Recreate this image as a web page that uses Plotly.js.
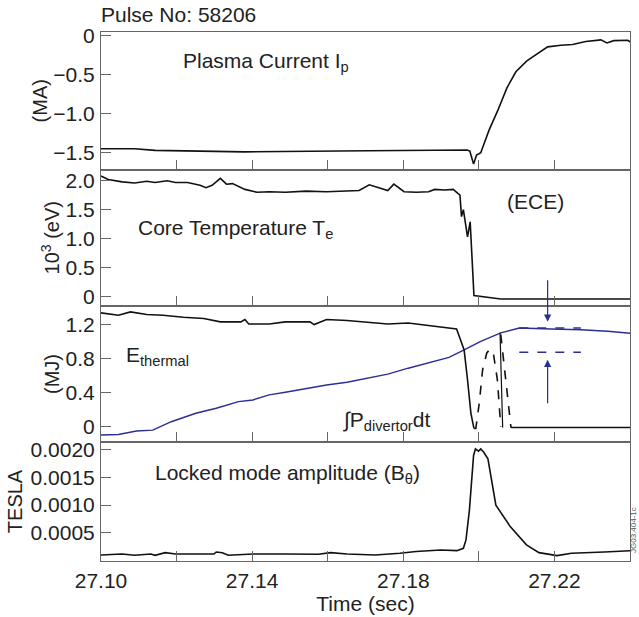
<!DOCTYPE html>
<html><head><meta charset="utf-8">
<script src="https://cdn.plot.ly/plotly-3.0.1.min.js"></script>
<style>html,body{margin:0;padding:0;background:#fff}#chart{width:639px;height:617px}</style>
</head><body><div id="chart"></div>
<script>
// ---------- data ----------
const xTickVals = [27.10, 27.14, 27.18, 27.22];
const xTickText = ["27.10", "27.14", "27.18", "27.22"];

const ipTime = [27.1000, 27.1089, 27.1143, 27.1380, 27.1705, 27.1969, 27.1976, 27.1986, 27.1994, 27.2005, 27.2027, 27.2049, 27.2074, 27.2098, 27.2127, 27.2155, 27.2182, 27.2217, 27.2248, 27.2283, 27.2323, 27.2339, 27.2357, 27.2394, 27.2403];
const ipMA   = [-1.45, -1.45, -1.47, -1.49, -1.475, -1.465, -1.48, -1.645, -1.53, -1.50, -1.21, -0.97, -0.67, -0.46, -0.32, -0.23, -0.14, -0.12, -0.11, -0.07, -0.05, -0.09, -0.06, -0.055, -0.085];
const ipTicks = [0, -0.5, -1.0, -1.5];
const ipTickText = ["0", "\u22120.5", "\u22121.0", "\u22121.5"];

const teTime = [27.1000, 27.1019, 27.1056, 27.1089, 27.1121, 27.1143, 27.1175, 27.1197, 27.1229, 27.1262, 27.1278, 27.1294, 27.1316, 27.1332, 27.1348, 27.1381, 27.1413, 27.1445, 27.1488, 27.1543, 27.1597, 27.1651, 27.1683, 27.1710, 27.1732, 27.1759, 27.1775, 27.1802, 27.1834, 27.1867, 27.1883, 27.1910, 27.1932, 27.1950, 27.1954, 27.1959, 27.1970, 27.1977, 27.1987, 27.2058, 27.2403];
const teKeV  = [2.08, 2.02, 1.98, 1.96, 1.99, 1.97, 2.00, 1.97, 1.97, 1.92, 1.88, 1.92, 2.04, 1.94, 1.95, 1.85, 1.80, 1.81, 1.80, 1.82, 1.81, 1.83, 1.83, 1.93, 1.89, 1.83, 1.94, 1.81, 1.80, 1.81, 1.85, 1.84, 1.85, 1.75, 1.38, 1.50, 1.03, 1.29, 0.02, -0.04, -0.04];
const teTicks = [0, 0.5, 1.0, 1.5, 2.0];
const teTickText = ["0", "0.5", "1.0", "1.5", "2.0"];

const ethTime = [27.1000, 27.1046, 27.1078, 27.1121, 27.1164, 27.1218, 27.1272, 27.1316, 27.1370, 27.1381, 27.1391, 27.1445, 27.1488, 27.1553, 27.1564, 27.1597, 27.1651, 27.1705, 27.1759, 27.1813, 27.1867, 27.1921, 27.1941, 27.1948, 27.1961, 27.1970, 27.1979, 27.1987];
const ethMJ   = [1.334, 1.306, 1.345, 1.314, 1.306, 1.282, 1.267, 1.228, 1.228, 1.255, 1.204, 1.204, 1.228, 1.228, 1.196, 1.255, 1.244, 1.228, 1.204, 1.215, 1.184, 1.157, 1.146, 1.059, 0.90, 0.55, 0.157, -0.02];
const ethDash1Time = [27.1987, 27.1992, 27.2001, 27.2010, 27.2021, 27.2030, 27.2039, 27.2049, 27.2058];
const ethDash1MJ   = [-0.02, -0.02, 0.275, 0.67, 0.864, 0.91, 0.844, 0.55, 0.0];
const ethSpikeTime = [27.2056, 27.2063];
const ethSpikeMJ   = [1.10, -0.01];
const ethDash2Time = [27.2058, 27.2085];
const ethDash2MJ   = [1.08, -0.01];
const ethTailTime = [27.2085, 27.2403];
const ethTailMJ   = [-0.01, -0.01];

const divTime = [27.1000, 27.1046, 27.1094, 27.1137, 27.1186, 27.1251, 27.1305, 27.1364, 27.1402, 27.1445, 27.1488, 27.1597, 27.1651, 27.1705, 27.1759, 27.1813, 27.1867, 27.1921, 27.1961, 27.2005, 27.2058, 27.2107, 27.2191, 27.2270, 27.2341, 27.2403];
const divMJ   = [-0.098, -0.09, -0.05, -0.04, 0.059, 0.157, 0.216, 0.294, 0.314, 0.373, 0.404, 0.49, 0.52, 0.569, 0.616, 0.686, 0.745, 0.812, 0.90, 0.999, 1.099, 1.157, 1.146, 1.137, 1.118, 1.095];
const refTime = [27.2107, 27.2270];
const refUpperMJ = [1.157, 1.157];
const refLowerMJ = [0.871, 0.871];
const arrowTime = 27.2182;
const arrowDownTipMJ = 1.23;
const arrowUpTipMJ = 0.785;
const eTicks = [0, 0.4, 0.8, 1.2];
const eTickText = ["0", "0.4", "0.8", "1.2"];

const lmTime = [27.1000, 27.1056, 27.1089, 27.1132, 27.1143, 27.1170, 27.1197, 27.1251, 27.1299, 27.1305, 27.1321, 27.1337, 27.1402, 27.1488, 27.1575, 27.1608, 27.1651, 27.1726, 27.1791, 27.1834, 27.1899, 27.1942, 27.1959, 27.1966, 27.1975, 27.1986, 27.1991, 27.1999, 27.2005, 27.2013, 27.2024, 27.2045, 27.2083, 27.2126, 27.2159, 27.2207, 27.2245, 27.2332, 27.2402];
const lmTesla = [0.000096, 0.000114, 0.00009, 0.000114, 0.00009, 0.000138, 0.000114, 0.000114, 0.000114, 0.00015, 0.000138, 0.00009, 0.000114, 0.000114, 0.00011, 0.000138, 0.000114, 0.000096, 0.000126, 0.00016, 0.000186, 0.000174, 0.000216, 0.00037, 0.00091, 0.0019, 0.00202, 0.00198, 0.00202, 0.00196, 0.00184, 0.0010, 0.00061, 0.00028, 0.000138, 0.000084, 0.000126, 0.00015, 0.000174];
const lmTicks = [0.0005, 0.0010, 0.0015, 0.0020];
const lmTickText = ["0.0005", "0.0010", "0.0015", "0.0020"];

// ---------- styling ----------
const FONT = "Liberation Sans, Arial, Helvetica, sans-serif";
const TXT = "#222222";
const BLACK = "#111111";
const BLUE = "#2b2f93";
const AX = "#666666";
const FS = 21;
const L = 101, R = 630, T = 32, B = 561;
const W = R - L, H = B - T;
function px(x, y) { return {x: (x - L) / W, y: (B - y) / H}; }
function dom(top, bottom) { return [(B - bottom) / H, (B - top) / H]; }
function f(size, color) { return {family: FONT, size: size || FS, color: color || TXT}; }

const blackLine = {color: BLACK, width: 1.6};
const traces = [
  {x: ipTime, y: ipMA, xaxis: "x", yaxis: "y", mode: "lines", line: blackLine, name: "Ip"},
  {x: teTime, y: teKeV, xaxis: "x2", yaxis: "y2", mode: "lines", line: blackLine, name: "Te"},
  {x: divTime, y: divMJ, xaxis: "x3", yaxis: "y3", mode: "lines", line: {color: BLUE, width: 1.5}, name: "Pdiv"},
  {x: ethTime, y: ethMJ, xaxis: "x3", yaxis: "y3", mode: "lines", line: blackLine, name: "Eth"},
  {x: ethDash1Time, y: ethDash1MJ, xaxis: "x3", yaxis: "y3", mode: "lines", line: {color: BLACK, width: 1.6, dash: "dash"}, name: "Eth d1"},
  {x: ethSpikeTime, y: ethSpikeMJ, xaxis: "x3", yaxis: "y3", mode: "lines", line: {color: BLACK, width: 1.2}, name: "Eth s"},
  {x: ethDash2Time, y: ethDash2MJ, xaxis: "x3", yaxis: "y3", mode: "lines", line: {color: BLACK, width: 1.6, dash: "dash"}, name: "Eth d2"},
  {x: ethTailTime, y: ethTailMJ, xaxis: "x3", yaxis: "y3", mode: "lines", line: blackLine, name: "Eth t"},
  {x: refTime, y: refUpperMJ, xaxis: "x3", yaxis: "y3", mode: "lines", line: {color: BLUE, width: 1.5, dash: "dash"}, name: "ref u"},
  {x: refTime, y: refLowerMJ, xaxis: "x3", yaxis: "y3", mode: "lines", line: {color: BLUE, width: 1.5, dash: "dash"}, name: "ref l"},
  {x: lmTime, y: lmTesla, xaxis: "x4", yaxis: "y4", mode: "lines", line: blackLine, name: "LM"}
];

function xax(anchor, showLabels) {
  const a = {
    domain: [0, 1], anchor: anchor, range: [27.10, 27.24],
    tickmode: "array", tickvals: xTickVals, ticktext: xTickText,
    ticks: "inside", ticklen: 10, tickcolor: AX, tickwidth: 1,
    minor: {tickmode: "linear", tick0: 27.10, dtick: 0.02, ticks: "inside", ticklen: 10, tickcolor: AX, tickwidth: 1, showgrid: false},
    showticklabels: showLabels, showgrid: false, zeroline: false,
    showline: true, mirror: true, linecolor: AX, linewidth: 1,
    ticklabelstandoff: 1,
    tickfont: f()
  };
  if (anchor !== "y") a.matches = "x";
  return a;
}
function yax(domain, anchor, range, tv, tt, title, standoff) {
  return {
    domain: domain, anchor: anchor, range: range,
    tickmode: "array", tickvals: tv, ticktext: tt,
    ticks: "inside", ticklen: 10, tickcolor: AX, tickwidth: 1,
    ticklabelstandoff: 1,
    showgrid: false, zeroline: false,
    showline: true, mirror: true, linecolor: AX, linewidth: 1,
    tickfont: f(),
    title: {text: title, font: f(20), standoff: standoff}
  };
}

const layout = {
  width: 639, height: 617,
  margin: {l: L, r: 639 - R, t: T, b: 617 - B, pad: 0},
  paper_bgcolor: "#ffffff", plot_bgcolor: "#ffffff",
  showlegend: false,
  font: f(),
  xaxis: xax("y", false),
  xaxis2: xax("y2", false),
  xaxis3: xax("y3", false),
  xaxis4: Object.assign(xax("y4", true), {title: {text: "Time (sec)", font: f(), standoff: 0}}),
  yaxis: yax(dom(32, 169.5), "x", [-1.716, 0.051], ipTicks, ipTickText, "(MA)", 0),
  yaxis2: yax(dom(169.5, 306), "x2", [-0.16, 2.193], teTicks, teTickText, "10<sup>3</sup> (eV)", 0),
  yaxis3: yax(dom(306, 442), "x3", [-0.179, 1.414], eTicks, eTickText, "(MJ)", 0),
  yaxis4: yax(dom(442, 561), "x4", [-0.0000133, 0.002145], lmTicks, lmTickText, "TESLA", 2),
  annotations: [
    Object.assign(px(99, 15), {xref: "paper", yref: "paper", text: "Pulse No: 58206", showarrow: false, xanchor: "left", yanchor: "middle", font: f()}),
    Object.assign(px(181, 62), {xref: "paper", yref: "paper", text: "Plasma Current I<sub>p</sub>", showarrow: false, xanchor: "left", yanchor: "middle", font: f()}),
    Object.assign(px(535, 202), {xref: "paper", yref: "paper", text: "(ECE)", showarrow: false, xanchor: "center", yanchor: "middle", font: f()}),
    Object.assign(px(136, 229), {xref: "paper", yref: "paper", text: "Core Temperature T<sub>e</sub>", showarrow: false, xanchor: "left", yanchor: "middle", font: f()}),
    Object.assign(px(124, 356), {xref: "paper", yref: "paper", text: "E<sub>thermal</sub>", showarrow: false, xanchor: "left", yanchor: "middle", font: f()}),
    Object.assign(px(341, 421), {xref: "paper", yref: "paper", text: "\u222BP<sub>divertor</sub>dt", showarrow: false, xanchor: "left", yanchor: "middle", font: f()}),
    Object.assign(px(153, 474), {xref: "paper", yref: "paper", text: "Locked mode amplitude (B<sub>\u03B8</sub>)", showarrow: false, xanchor: "left", yanchor: "middle", font: f()}),
    Object.assign(px(633, 530), {xref: "paper", yref: "paper", text: "JG03.404-1c", showarrow: false, textangle: -90, xanchor: "center", yanchor: "middle", font: f(8, "#555")}),
    {xref: "x3", yref: "y3", x: arrowTime, y: arrowDownTipMJ, ax: 0, ay: -43, text: "", showarrow: true, arrowhead: 2, arrowsize: 1.2, arrowwidth: 1.2, arrowcolor: BLUE, standoff: 0},
    {xref: "x3", yref: "y3", x: arrowTime, y: arrowUpTipMJ, ax: 0, ay: 45, text: "", showarrow: true, arrowhead: 2, arrowsize: 1.2, arrowwidth: 1.2, arrowcolor: BLUE, standoff: 0}
  ]
};

Plotly.newPlot("chart", traces, layout, {displayModeBar: false, staticPlot: true});
</script>
</body></html>
